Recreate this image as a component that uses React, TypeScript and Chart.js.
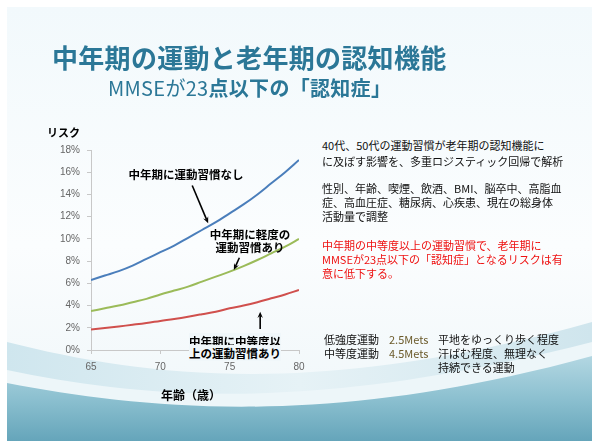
import React, { useEffect, useRef } from "react";
import { Chart, registerables } from "chart.js";

Chart.register(...registerables);

// ---- data ----
const ages = [65, 66, 67, 68, 69, 70, 71, 72, 73, 74, 75, 76, 77, 78, 79, 80];
const noHabit = [6.3, 6.7, 7.1, 7.6, 8.2, 8.8, 9.4, 10.1, 10.8, 11.5, 12.3, 13.1, 14.0, 15.0, 16.0, 17.1];
const lightHabit = [3.5, 3.75, 4.0, 4.3, 4.6, 5.0, 5.35, 5.7, 6.15, 6.6, 7.05, 7.55, 8.1, 8.7, 9.3, 10.0];
const moderateHabit = [1.85, 1.98, 2.12, 2.27, 2.43, 2.62, 2.8, 3.0, 3.22, 3.45, 3.75, 4.0, 4.3, 4.65, 5.0, 5.4];
const xTicks = [65, 70, 75, 80];
const yTicks = [0, 2, 4, 6, 8, 10, 12, 14, 16, 18];

// annotation arrows in data units: [age, risk%]
const arrows = [
  { from: [72.3, 14.8], to: [73.45, 11.4] },
  { from: [75.7, 8.3], to: [75.3, 7.2] },
  { from: [77.2, 1.9], to: [77.2, 3.45] },
];

const JP = '"Noto Sans CJK JP", "Noto Sans", sans-serif';

const arrowPlugin = {
  id: "arrows",
  afterDatasetsDraw(chart: any) {
    const { ctx, scales } = chart;
    const xs = scales.x;
    const ys = scales.y;
    ctx.save();
    ctx.strokeStyle = "#000";
    ctx.fillStyle = "#000";
    ctx.lineWidth = 1.6;
    arrows.forEach((a) => {
      const x1 = xs.getPixelForValue(a.from[0]);
      const y1 = ys.getPixelForValue(a.from[1]);
      const x2 = xs.getPixelForValue(a.to[0]);
      const y2 = ys.getPixelForValue(a.to[1]);
      const ang = Math.atan2(y2 - y1, x2 - x1);
      const hl = 7;
      const hw = 0.4;
      ctx.beginPath();
      ctx.moveTo(x1, y1);
      ctx.lineTo(x2 - Math.cos(ang) * 4, y2 - Math.sin(ang) * 4);
      ctx.stroke();
      ctx.beginPath();
      ctx.moveTo(x2, y2);
      ctx.lineTo(x2 - hl * Math.cos(ang - hw), y2 - hl * Math.sin(ang - hw));
      ctx.lineTo(x2 - hl * 0.6 * Math.cos(ang), y2 - hl * 0.6 * Math.sin(ang));
      ctx.lineTo(x2 - hl * Math.cos(ang + hw), y2 - hl * Math.sin(ang + hw));
      ctx.closePath();
      ctx.fill();
    });
    ctx.restore();
  },
};

function Txt(props: { x: number; y: number; size: number; children: any; bold?: boolean; color?: string; center?: boolean; lh?: number; bg?: string; extra?: any }) {
  const lh = props.lh ?? Math.round(props.size * 1.2);
  return (
    <div
      style={{
        position: "absolute",
        left: props.center ? props.x - 200 : props.x,
        width: props.center ? 400 : undefined,
        textAlign: props.center ? "center" : "left",
        top: props.y - lh / 2,
        fontSize: props.size,
        lineHeight: lh + "px",
        fontWeight: props.bold ? 700 : 400,
        color: props.color ?? "#111",
        fontFamily: JP,
        whiteSpace: "nowrap",
        ...(props.extra || {}),
      }}
    >
      {props.bg ? <span style={{ background: props.bg }}>{props.children}</span> : props.children}
    </div>
  );
}

export default function App() {
  const ref = useRef<HTMLCanvasElement>(null);

  useEffect(() => {
    if (!ref.current) return;
    const mk = (vals: number[]) => ages.map((a, i) => ({ x: a, y: vals[i] }));
    const chart = new Chart(ref.current, {
      type: "line",
      data: {
        datasets: [
          { label: "中年期に運動習慣なし", data: mk(noHabit), borderColor: "#4a7ebb", borderWidth: 2, pointRadius: 0, tension: 0.4, fill: false },
          { label: "中年期に軽度の運動習慣あり", data: mk(lightHabit), borderColor: "#9bbb59", borderWidth: 2, pointRadius: 0, tension: 0.4, fill: false },
          { label: "中年期に中等度以上の運動習慣あり", data: mk(moderateHabit), borderColor: "#d0504d", borderWidth: 2, pointRadius: 0, tension: 0.4, fill: false },
        ],
      },
      options: {
        responsive: false,
        maintainAspectRatio: false,
        animation: false,
        layout: { padding: { left: 40, top: 150, right: 21, bottom: 40 } },
        plugins: { legend: { display: false }, tooltip: { enabled: false } },
        scales: {
          x: {
            type: "linear",
            min: 65,
            max: 80,
            afterFit: (s: any) => { s.height = 30; },
            afterBuildTicks: (s: any) => { s.ticks = xTicks.map((v) => ({ value: v })); },
            grid: { drawOnChartArea: false, drawTicks: true, tickLength: 4, color: "#c8c8c8" },
            border: { color: "#c8c8c8", width: 1 },
            ticks: { color: "#666", font: { family: '"Liberation Sans", Arial, sans-serif', size: 10 }, padding: 7, maxRotation: 0 },
          },
          y: {
            min: 0,
            max: 18,
            afterFit: (s: any) => { s.width = 51; },
            afterBuildTicks: (s: any) => { s.ticks = yTicks.map((v) => ({ value: v })); },
            grid: { drawOnChartArea: false, drawTicks: true, tickLength: 4, color: "#c8c8c8" },
            border: { color: "#c8c8c8", width: 1 },
            ticks: { color: "#666", font: { family: '"Liberation Sans", Arial, sans-serif', size: 10 }, padding: 7, callback: (v: any) => v + "%" },
          },
        },
      },
      plugins: [arrowPlugin],
    } as any);
    return () => chart.destroy();
  }, []);

  return (
    <div style={{ position: "fixed", left: 0, top: 0, width: 592, height: 441, overflow: "hidden", background: "#fff" }}>
      <svg width={592} height={441} style={{ position: "absolute", left: 0, top: 0 }}>
        <defs>
          <linearGradient id="bg" x1="0" y1="0" x2="0" y2="1">
            <stop offset="0" stopColor="#f2f9fc" />
            <stop offset="0.55" stopColor="#fbfdfe" />
            <stop offset="1" stopColor="#eef6f9" />
          </linearGradient>
          <linearGradient id="w1" x1="0" y1="0" x2="1" y2="0">
            <stop offset="0" stopColor="#cfe6ee" />
            <stop offset="0.5" stopColor="#e6f2f6" />
            <stop offset="1" stopColor="#cfe5ed" />
          </linearGradient>
          <linearGradient id="w2" x1="0" y1="0" x2="0" y2="1">
            <stop offset="0" stopColor="#b3d7e2" />
            <stop offset="0.5" stopColor="#8cc0d0" />
            <stop offset="1" stopColor="#65a5ba" />
          </linearGradient>
        </defs>
        <rect x={7} y={7} width={585} height={434} fill="url(#bg)" />
        <path d="M7,342 C150,378 320,398 592,322 L592,441 L7,441 Z" fill="url(#w1)" />
        <path d="M7,370 C150,400 320,412 592,342 L592,441 L7,441 Z" fill="#edf6f9" />
        <path d="M7,383 C150,410 330,428 592,356 L592,441 L7,441 Z" fill="url(#w2)" />
      </svg>

      <canvas ref={ref} width={320} height={420} style={{ position: "absolute", left: 0, top: 0, width: 320, height: 420 }} />

      {/* titles */}
      <Txt x={52} y={57} size={26} bold color="#2b7797" lh={30} extra={{ letterSpacing: "0.3px" }}>中年期の運動と老年期の認知機能</Txt>
      <Txt x={108} y={88} size={20} color="#2b7797" lh={24} extra={{ letterSpacing: "0.3px" }}>
        <span>MMSEが23</span>
        <span style={{ fontWeight: 700 }}>点以下の「認知症」</span>
      </Txt>

      {/* axis titles */}
      <Txt x={47} y={132} size={11} bold color="#000">リスク</Txt>
      <Txt x={191} y={395} size={12} bold center color="#000">年齢（歳）</Txt>

      {/* curve annotations */}
      <Txt x={186} y={174} size={11.5} bold center color="#000">中年期に運動習慣なし</Txt>
      <Txt x={250} y={234} size={11.5} bold center color="#000">中年期に軽度の</Txt>
      <Txt x={250} y={247} size={11.5} bold center color="#000">運動習慣あり</Txt>
      <Txt x={235} y={341} size={11.5} bold center color="#000" lh={12} bg="#f0f7fa">中年期に中等度以</Txt>
      <Txt x={235} y={353} size={11.5} bold center color="#000" lh={12} bg="#f0f7fa">上の運動習慣あり</Txt>

      {/* right text */}
      <Txt x={322} y={145} size={11}>40代、50代の運動習慣が老年期の認知機能に</Txt>
      <Txt x={322} y={161} size={11}>に及ぼす影響を、多重ロジスティック回帰で解析</Txt>
      <Txt x={322} y={188} size={11}>性別、年齢、喫煙、飲酒、BMI、脳卒中、高脂血</Txt>
      <Txt x={322} y={202} size={11}>症、高血圧症、糖尿病、心疾患、現在の総身体</Txt>
      <Txt x={322} y={216} size={11}>活動量で調整</Txt>

      <Txt x={322} y={245} size={11} color="#ee1111">中年期の中等度以上の運動習慣で、老年期に</Txt>
      <Txt x={322} y={259} size={11} color="#ee1111">MMSEが23点以下の「認知症」となるリスクは有</Txt>
      <Txt x={322} y={273} size={11} color="#ee1111">意に低下する。</Txt>

      <Txt x={324} y={339} size={11}>低強度運動</Txt>
      <Txt x={389} y={339} size={11} color="#6b5a2a">2.5Mets</Txt>
      <Txt x={438} y={339} size={11}>平地をゆっくり歩く程度</Txt>
      <Txt x={324} y={353} size={11}>中等度運動</Txt>
      <Txt x={389} y={353} size={11} color="#6b5a2a">4.5Mets</Txt>
      <Txt x={438} y={353} size={11}>汗ばむ程度、無理なく</Txt>
      <Txt x={438} y={367} size={11}>持続できる運動</Txt>
    </div>
  );
}
